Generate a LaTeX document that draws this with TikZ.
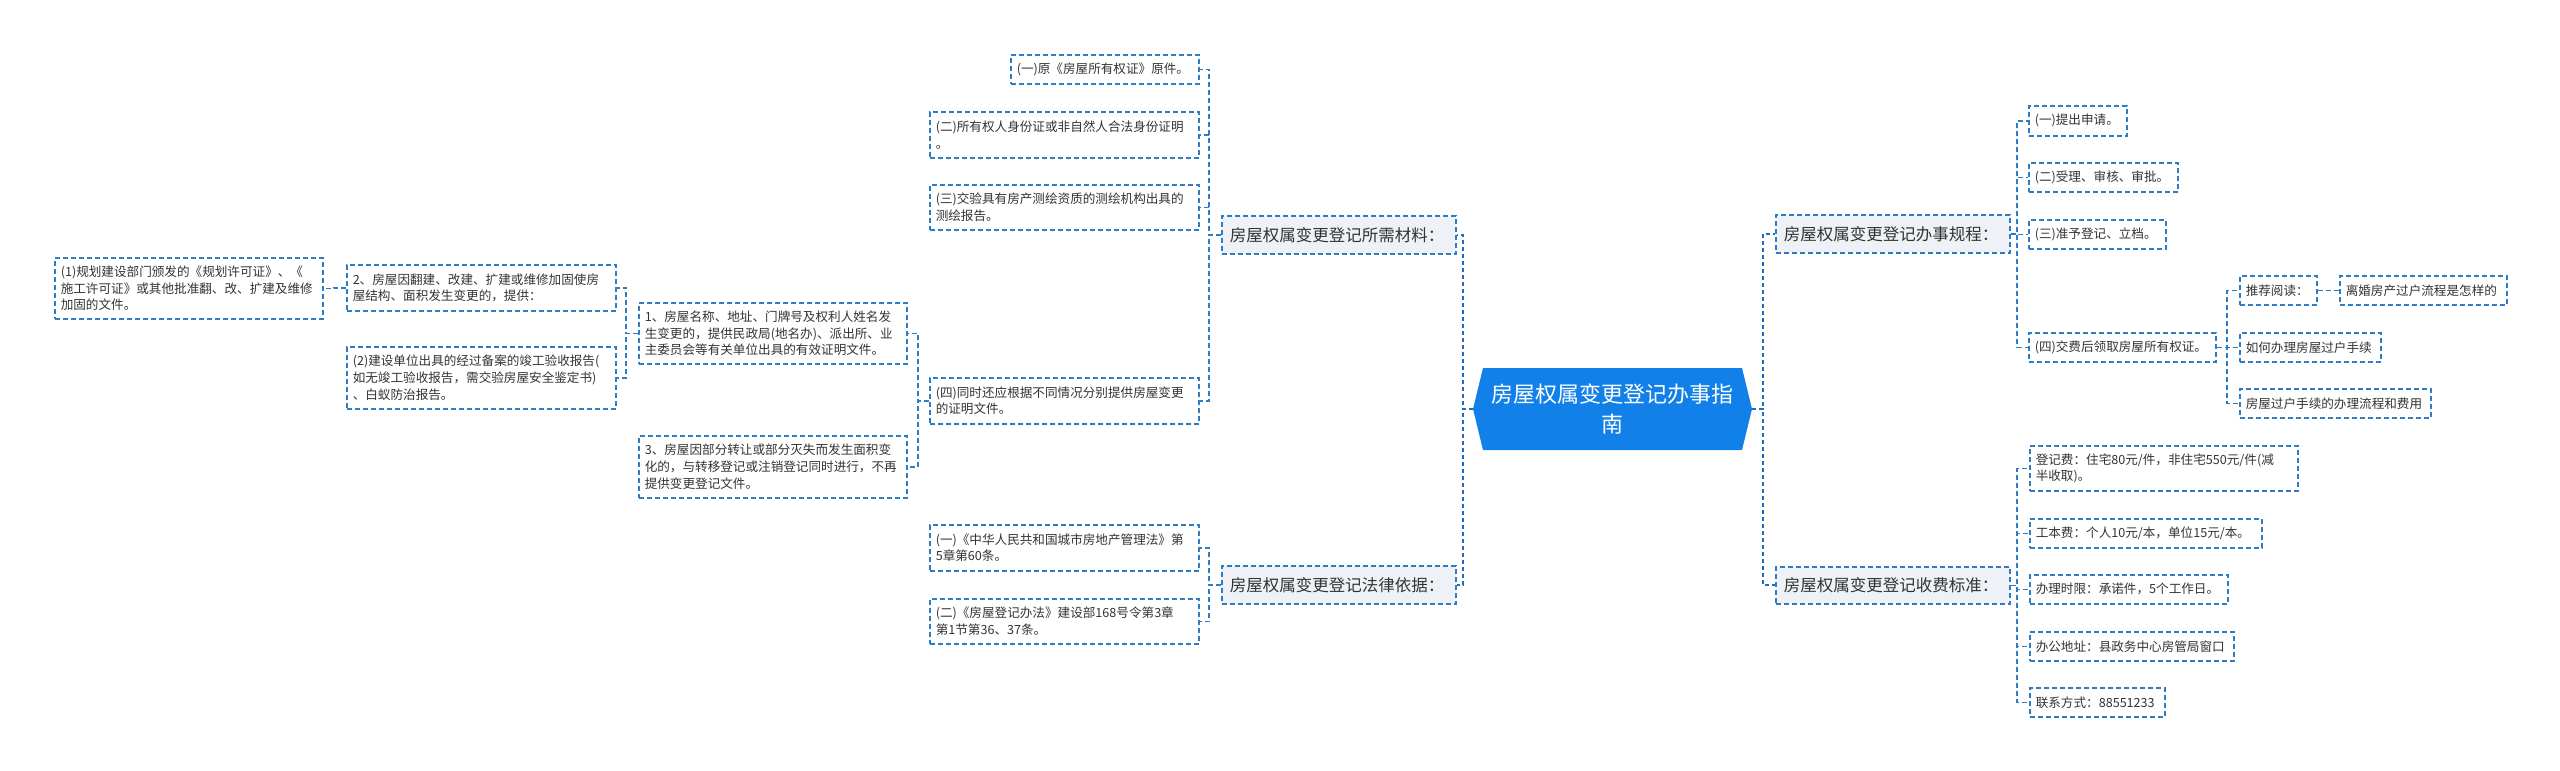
\documentclass[tikz,border=0pt]{standalone}
\usepackage{fontspec}
\setmainfont{Noto Sans CJK SC}
\definecolor{lk}{HTML}{2E7CC4}
\definecolor{trk}{HTML}{1F6DBB}
\definecolor{lonefill}{HTML}{EEF1F5}
\definecolor{cfill}{HTML}{1180E8}
\definecolor{txt}{HTML}{333333}
\tikzset{
  leaf/.style={draw=lk, line width=1.5pt, dash pattern=on 5pt off 3pt, fill=white,
    inner xsep=6pt, inner ysep=2pt, align=left, text=txt,
    font=\fontsize{12.6}{16.7}\selectfont},
  lone/.style={leaf, fill=lonefill, inner xsep=8pt, font=\fontsize{16.5}{20}\selectfont},
  central/.style={inner sep=0pt, align=center, text=white,
    font=\fontsize{22}{30}\selectfont},
  conn/.style={draw=lk, line width=1.5pt, dash pattern=on 5pt off 3pt},
  trunk/.style={draw=trk, line width=2pt, dash pattern=on 4pt off 3pt},
}
\newcommand\mmbox[7]{%
  \pgfmathsetmacro\mmW{#5-#3}%
  \pgfmathsetmacro\mmH{#6-#4}%
  \pgfmathsetmacro\mmT{#5-#3-12}%
  \node[#1, anchor=north west, minimum width=\mmW pt, minimum height=\mmH pt,
        text width=\mmT pt] (#2) at (#3,#4) {#7};}
\begin{document}
\begin{tikzpicture}[x=1pt,y=-1pt]
\useasboundingbox (0,0) rectangle (2560,771);
\fill[white] (0,0) rectangle (2560,771);

% central node
\fill[cfill] (1473,409) -- (1483,368) -- (1742,368) -- (1752,409) -- (1742,450) -- (1483,450) -- cycle;
\node[central, minimum width=279pt, minimum height=82pt] (center) at (1612.5,409)
  {房屋权属变更登记办事指\\南};

% bus coordinates
\coordinate (busC) at (1463,0);
\coordinate (busR) at (1763,0);
\coordinate (busM) at (1209,0);
\coordinate (busA) at (918,0);
\coordinate (busG) at (626,0);
\coordinate (busF) at (334,0);
\coordinate (busP) at (2017,0);
\coordinate (busQ) at (2227,0);
\coordinate (busD) at (2327,0);

% level 1
\mmbox{lone}{mat}{1221}{215}{1451}{253}{房屋权属变更登记所需材料：}
\mmbox{lone}{law}{1221}{565}{1451}{603}{房屋权属变更登记法律依据：}
\mmbox{lone}{proc}{1775}{214}{2005}{252}{房屋权属变更登记办事规程：}
\mmbox{lone}{fee}{1775}{566}{2005}{603}{房屋权属变更登记收费标准：}

% materials
\mmbox{leaf}{a1}{1010}{54}{1198}{83}{(一)原《房屋所有权证》原件。}
\mmbox{leaf}{a2}{929}{111}{1198}{157}{(二)所有权人身份证或非自然人合法身份证明\\。}
\mmbox{leaf}{a3}{929}{184}{1198}{229}{(三)交验具有房产测绘资质的测绘机构出具的\\测绘报告。}
\mmbox{leaf}{a4}{929}{377}{1198}{423}{(四)同时还应根据不同情况分别提供房屋变更\\的证明文件。}
\mmbox{leaf}{g1}{638}{302}{906}{363}{1、房屋名称、地址、门牌号及权利人姓名发\\生变更的，提供民政局(地名办)、派出所、业\\主委员会等有关单位出具的有效证明文件。}
\mmbox{leaf}{g3}{638}{435}{906}{497}{3、房屋因部分转让或部分灭失而发生面积变\\化的，与转移登记或注销登记同时进行，不再\\提供变更登记文件。}
\mmbox{leaf}{f0}{346}{264}{615}{310}{2、房屋因翻建、改建、扩建或维修加固使房\\屋结构、面积发生变更的，提供：}
\mmbox{leaf}{f2}{346}{346}{615}{408}{(2)建设单位出具的经过备案的竣工验收报告(\\如无竣工验收报告，需交验房屋安全鉴定书)\\、白蚁防治报告。}
\mmbox{leaf}{f1}{54}{257}{322}{318}{(1)规划建设部门颁发的《规划许可证》、《\\施工许可证》或其他批准翻、改、扩建及维修\\加固的文件。}

% law
\mmbox{leaf}{h1}{929}{524}{1198}{570}{(一)《中华人民共和国城市房地产管理法》第\\5章第60条。}
\mmbox{leaf}{h2}{929}{598}{1198}{643}{(二)《房屋登记办法》建设部168号令第3章\\第1节第36、37条。}

% procedure
\mmbox{leaf}{c1}{2028}{105}{2126}{135}{(一)提出申请。}
\mmbox{leaf}{c2}{2028}{162}{2177}{191}{(二)受理、审核、审批。}
\mmbox{leaf}{c3}{2028}{219}{2165}{248}{(三)准予登记、立档。}
\mmbox{leaf}{c4}{2028}{332}{2215}{361}{(四)交费后领取房屋所有权证。}
\mmbox{leaf}{d1}{2239}{275}{2316}{304}{推荐阅读：}
\mmbox{leaf}{d1b}{2339}{275}{2506}{304}{离婚房产过户流程是怎样的}
\mmbox{leaf}{d2}{2239}{332}{2380}{361}{如何办理房屋过户手续}
\mmbox{leaf}{d3}{2239}{388}{2430}{417}{房屋过户手续的办理流程和费用}

% fees
\mmbox{leaf}{e1}{2029}{445}{2297}{490}{登记费：住宅80元/件，非住宅550元/件(减\\半收取)。}
\mmbox{leaf}{e2}{2029}{518}{2261}{547}{工本费：个人10元/本，单位15元/本。}
\mmbox{leaf}{e3}{2029}{574}{2227}{603}{办理时限：承诺件，5个工作日。}
\mmbox{leaf}{e4}{2029}{631}{2233}{660}{办公地址：县政务中心房管局窗口}
\mmbox{leaf}{e5}{2029}{687}{2164}{716}{联系方式：88551233}

% connectors
\draw[trunk] (center.west) -- (center.west -| busC) |- (mat.east);
\draw[trunk] (center.west) -- (center.west -| busC) |- (law.east);
\draw[trunk] (center.east) -- (center.east -| busR) |- (proc.west);
\draw[trunk] (center.east) -- (center.east -| busR) |- (fee.west);
\foreach \c in {a1,a2,a3,a4} \draw[conn] (mat.west) -- (mat.west -| busM) |- (\c.east);
\foreach \c in {h1,h2} \draw[conn] (law.west) -- (law.west -| busM) |- (\c.east);
\foreach \c in {g1,g3} \draw[conn] (a4.west) -- (a4.west -| busA) |- (\c.east);
\foreach \c in {f0,f2} \draw[conn] (g1.west) -- (g1.west -| busG) |- (\c.east);
\draw[conn] (f0.west) -- (f0.west -| busF) |- (f1.east);
\foreach \c in {c1,c2,c3,c4} \draw[conn] (proc.east) -- (proc.east -| busP) |- (\c.west);
\foreach \c in {d1,d2,d3} \draw[conn] (c4.east) -- (c4.east -| busQ) |- (\c.west);
\draw[conn] (d1.east) -- (d1.east -| busD) |- (d1b.west);
\foreach \c in {e1,e2,e3,e4,e5} \draw[conn] (fee.east) -- (fee.east -| busP) |- (\c.west);
\end{tikzpicture}
\end{document}
